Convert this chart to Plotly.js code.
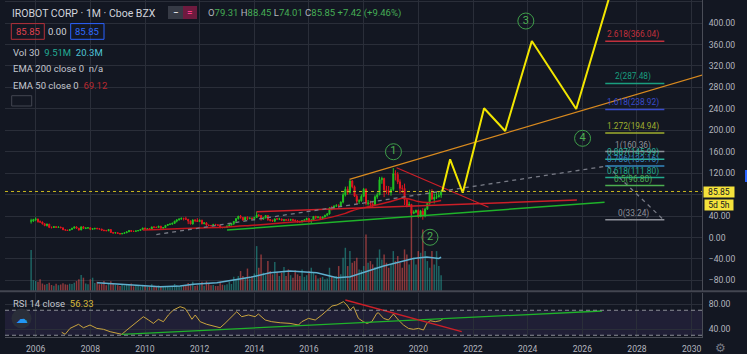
<!DOCTYPE html>
<html><head><meta charset="utf-8">
<script src="https://cdn.plot.ly/plotly-3.0.1.min.js"></script>
<style>html,body{margin:0;padding:0;background:#131722;}#chart{width:747px;height:354px;}</style>
</head><body><div id="chart"></div>
<script>
// ---------------- DATA ----------------
const months = [
'2005-11','2005-12',
'2006-01','2006-02','2006-03','2006-04','2006-05','2006-06','2006-07','2006-08','2006-09','2006-10','2006-11','2006-12',
'2007-01','2007-02','2007-03','2007-04','2007-05','2007-06','2007-07','2007-08','2007-09','2007-10','2007-11','2007-12',
'2008-01','2008-02','2008-03','2008-04','2008-05','2008-06','2008-07','2008-08','2008-09','2008-10','2008-11','2008-12',
'2009-01','2009-02','2009-03','2009-04','2009-05','2009-06','2009-07','2009-08','2009-09','2009-10','2009-11','2009-12',
'2010-01','2010-02','2010-03','2010-04','2010-05','2010-06','2010-07','2010-08','2010-09','2010-10','2010-11','2010-12',
'2011-01','2011-02','2011-03','2011-04','2011-05','2011-06','2011-07','2011-08','2011-09','2011-10','2011-11','2011-12',
'2012-01','2012-02','2012-03','2012-04','2012-05','2012-06','2012-07','2012-08','2012-09','2012-10','2012-11','2012-12',
'2013-01','2013-02','2013-03','2013-04','2013-05','2013-06','2013-07','2013-08','2013-09','2013-10','2013-11','2013-12',
'2014-01','2014-02','2014-03','2014-04','2014-05','2014-06','2014-07','2014-08','2014-09','2014-10','2014-11','2014-12',
'2015-01','2015-02','2015-03','2015-04','2015-05','2015-06','2015-07','2015-08','2015-09','2015-10','2015-11','2015-12',
'2016-01','2016-02','2016-03','2016-04','2016-05','2016-06','2016-07','2016-08','2016-09','2016-10','2016-11','2016-12',
'2017-01','2017-02','2017-03','2017-04','2017-05','2017-06','2017-07','2017-08','2017-09','2017-10','2017-11','2017-12',
'2018-01','2018-02','2018-03','2018-04','2018-05','2018-06','2018-07','2018-08','2018-09','2018-10','2018-11','2018-12',
'2019-01','2019-02','2019-03','2019-04','2019-05','2019-06','2019-07','2019-08','2019-09','2019-10','2019-11','2019-12',
'2020-01','2020-02','2020-03','2020-04','2020-05','2020-06','2020-07','2020-08','2020-09','2020-10','2020-11'];

const opens = [
30.5,31.0,
33.3,34.5,29.5,28.8,25.5,22.3,24.9,19.0,18.6,20.0,18.9,19.5,
18.1,14.4,13.8,13.1,14.9,17.4,19.8,17.3,14.0,19.9,17.0,17.6,
18.1,15.3,16.4,17.1,16.2,15.8,13.7,13.0,12.5,14.8,9.2,8.5,
9.0,7.4,6.6,7.6,8.7,10.5,12.9,11.7,11.4,12.3,13.0,15.0,
17.6,16.0,16.3,15.2,19.7,19.1,18.7,21.1,17.3,18.6,22.6,24.3,
24.9,26.4,30.4,32.9,34.3,35.6,35.3,33.9,30.6,25.2,32.7,31.6,
29.8,32.1,25.6,27.3,23.2,22.3,22.2,24.0,23.5,22.8,18.7,18.4,
18.7,21.6,23.2,25.7,30.1,35.2,39.8,37.4,32.4,37.7,35.6,36.2,
34.8,37.4,41.6,41.0,34.3,36.5,40.9,33.6,31.9,30.5,34.7,34.6,
34.7,32.4,32.8,32.6,32.0,33.5,31.9,31.3,29.7,29.1,31.6,32.9,
35.4,30.4,31.7,39.3,37.9,38.1,35.1,38.2,41.4,44.0,55.3,54.0,
58.5,59.3,58.7,66.1,79.7,89.9,84.1,105.5,94.7,77.1,67.8,68.3,
76.7,89.9,63.7,64.2,62.6,60.1,75.8,79.6,107.9,110.0,88.8,87.3,
83.7,89.6,119.0,117.7,103.8,91.8,91.6,70.5,59.6,61.7,45.0,47.3,
50.6,38.7,49.2,40.9,53.0,63.9,83.9,71.6,74.8,75.9,79.31];

const highs = [
35.0,34.9,
37.5,35.2,31.8,29.9,26.8,26.0,25.5,20.4,21.3,21.5,20.6,20.0,
18.5,15.1,14.2,15.6,17.9,20.5,20.9,17.8,20.4,21.5,18.9,19.2,
18.4,17.0,17.9,18.2,17.0,16.1,14.4,14.2,15.6,15.2,9.9,9.6,
9.4,8.0,7.9,9.1,10.9,13.4,13.5,12.2,12.8,13.9,15.5,18.2,
18.3,17.0,16.9,20.2,20.8,20.3,21.8,21.6,19.4,23.0,25.1,26.5,
27.8,31.2,33.5,35.9,37.4,37.0,38.8,34.6,31.7,33.8,34.2,36.0,
34.0,33.2,27.9,28.6,24.0,23.4,25.5,25.6,24.9,23.5,19.4,19.6,
22.1,24.7,26.4,30.6,36.1,40.2,42.0,38.1,38.2,39.5,37.3,37.5,
38.9,48.5,44.0,42.0,37.9,41.6,41.6,34.2,33.4,35.4,36.5,36.8,
35.0,34.2,34.5,35.2,34.9,35.0,33.8,32.4,31.5,32.3,33.9,37.0,
35.6,34.6,39.8,40.5,39.6,39.5,39.2,42.4,45.6,56.0,58.9,60.2,
62.2,62.0,67.2,83.9,94.8,95.3,107.2,107.0,97.0,80.5,71.3,80.4,
92.5,91.7,70.0,68.5,66.9,78.7,83.7,113.0,113.4,111.6,96.4,96.1,
94.3,129.5,125.5,121.9,108.5,97.6,100.5,72.8,66.8,62.7,50.7,52.0,
52.3,51.6,54.7,55.6,65.1,89.2,90.3,82.0,85.0,86.0,88.45];

const lows = [
26.0,29.0,
30.5,27.6,27.4,24.2,21.0,20.5,17.5,16.8,18.0,18.2,17.9,17.6,
13.9,12.9,12.3,12.8,14.6,16.9,16.5,12.9,13.7,16.2,15.6,16.8,
13.7,14.6,14.9,15.6,14.8,13.2,11.5,11.8,11.9,8.4,6.9,7.6,
7.1,6.3,6.2,7.2,8.4,10.2,10.9,10.7,11.0,11.6,12.6,14.6,
15.4,14.9,14.6,15.0,17.3,17.6,17.9,16.9,16.8,18.1,21.5,23.1,
24.1,25.6,28.2,31.6,33.2,31.8,33.1,24.9,24.6,24.2,28.7,29.1,
29.2,24.5,24.8,21.6,20.8,20.5,21.1,22.2,21.9,17.0,17.4,17.7,
18.5,20.8,22.9,23.4,29.6,33.4,35.1,31.6,31.9,32.6,33.9,33.2,
32.0,36.5,38.2,31.5,33.1,35.8,31.0,29.8,29.5,28.6,33.0,32.5,
30.5,30.1,31.4,30.6,31.2,31.4,29.3,27.7,27.9,28.1,29.9,32.2,
28.0,27.2,31.1,34.5,35.5,33.6,34.6,37.3,40.3,42.5,50.5,53.0,
56.8,55.5,57.3,63.7,76.5,79.8,81.6,91.7,75.5,61.0,62.4,66.8,
76.3,60.1,59.6,55.0,55.4,59.5,72.1,79.0,100.2,75.3,81.3,78.9,
78.0,86.7,106.4,99.5,82.0,82.6,60.6,56.2,57.0,41.8,43.6,45.3,
36.9,38.1,33.24,37.6,51.3,61.1,69.9,63.6,71.8,74.6,74.01];

const closes = [
31.0,33.3,
34.5,29.5,28.8,25.5,22.3,24.9,19.0,18.6,20.0,18.9,19.5,18.1,
14.4,13.8,13.1,14.9,17.4,19.8,17.3,14.0,19.9,17.0,17.6,18.1,
15.3,16.4,17.1,16.2,15.8,13.7,13.0,12.5,14.8,9.2,8.5,9.0,
7.4,6.6,7.6,8.7,10.5,12.9,11.7,11.4,12.3,13.0,15.0,17.6,
16.0,16.3,15.2,19.7,19.1,18.7,21.1,17.3,18.6,22.6,24.3,24.9,
26.4,30.4,32.9,34.3,35.6,35.3,33.9,30.6,25.2,32.7,31.6,29.8,
32.1,25.6,27.3,23.2,22.3,22.2,24.0,23.5,22.8,18.7,18.4,18.7,
21.6,23.2,25.7,30.1,35.2,39.8,37.4,32.4,37.7,35.6,36.2,34.8,
37.4,41.6,41.0,34.3,36.5,40.9,33.6,31.9,30.5,34.7,34.6,34.7,
32.4,32.8,32.6,32.0,33.5,31.9,31.3,29.7,29.1,31.6,32.9,35.4,
30.4,31.7,39.3,37.9,38.1,35.1,38.2,41.4,44.0,55.3,54.0,58.5,
59.3,58.7,66.1,79.7,89.9,84.1,105.5,94.7,77.1,67.8,68.3,76.7,
89.9,63.7,64.2,62.6,60.1,75.8,79.6,107.9,110.0,88.8,87.3,83.7,
89.6,119.0,117.7,103.8,91.8,91.6,70.5,59.6,61.7,45.0,47.3,50.6,
38.7,49.2,40.9,53.0,63.9,83.9,71.6,74.8,75.9,78.4,85.85];

// monthly volume, millions
const volumes = [
24.6,6.5,
6.0,5.5,7.0,4.5,3.8,4.2,5.0,3.6,3.2,4.4,3.5,3.9,
4.6,4.0,3.8,4.4,4.2,5.0,6.0,7.1,9.6,8.0,4.5,4.0,
7.0,8.0,4.8,5.6,4.0,4.2,6.0,3.5,4.5,5.8,4.2,3.6,
3.5,3.0,3.8,3.3,3.6,4.1,4.5,2.8,3.0,3.2,2.6,3.7,
3.1,2.6,2.4,4.0,3.2,2.5,3.3,3.0,2.4,2.9,3.0,2.2,
2.6,4.2,3.5,3.2,2.8,3.0,3.6,4.8,3.5,5.6,3.0,3.4,
3.8,5.5,3.2,5.8,4.2,3.4,3.6,3.0,3.0,5.6,3.8,3.5,
4.0,5.5,4.2,8.5,7.0,9.0,12.0,9.0,8.0,13.5,7.5,9.0,
10.5,27.0,14.0,22.0,11.0,9.5,18.0,12.0,10.0,17.5,11.5,9.0,
11.0,14.5,9.0,13.0,9.5,8.0,12.5,10.0,9.0,13.0,8.5,9.5,
12.0,14.0,11.0,9.5,7.5,8.0,8.5,7.0,7.5,14.0,9.0,8.0,
9.0,15.0,10.0,20.0,26.0,15.0,24.0,17.0,18.0,20.0,13.0,12.5,
15.0,34.0,17.0,18.0,16.0,14.5,20.0,25.0,19.0,22.0,17.0,14.0,
16.0,24.0,18.0,21.0,17.0,14.0,25.0,22.0,16.0,49.0,20.0,16.0,
24.0,23.0,37.0,24.0,18.0,14.0,24.0,16.0,24.0,15.0,9.51];

// Volume MA(30), millions
const volMaDates = ['2008-04-01','2009-05-01','2010-07-20','2011-04-15','2011-10-10','2012-08-18','2013-03-28','2013-11-05','2014-07-30','2015-04-22','2016-04-15','2017-01-08','2017-07-05','2018-01-01','2018-09-24','2019-06-18','2019-10-27','2020-04-23','2020-10-01','2020-11-01'];
const volMaValues = [5.0,4.0,2.6,3.0,4.0,5.0,6.4,8.2,11.0,12.0,11.0,8.0,8.6,11.0,15.0,18.0,19.6,20.4,19.6,20.3];

// EMA 50 (close)
const emaDates = ['2009-12-01','2010-07-01','2011-06-01','2012-01-01','2013-01-01','2013-11-01','2014-09-01','2015-05-01','2016-04-01','2016-11-01','2017-05-01','2017-08-01','2018-02-01','2018-09-01','2019-02-01','2019-06-01','2019-09-01','2020-01-01','2020-06-01','2020-11-01'];
const emaValues = [14.0,14.8,16.8,17.8,19.8,22.5,25.5,28.5,32.0,38.0,45.0,50.0,56.5,63.0,68.5,73.0,72.0,67.0,65.5,69.12];

// RSI 14
const rsiDates = ['2006-12-15','2007-01-30','2007-04-05','2007-07-27','2007-10-01','2007-12-28','2008-03-28','2008-06-24','2008-09-23','2008-12-20','2009-02-25','2009-05-03','2009-07-31','2009-10-27','2009-12-10','2010-02-17','2010-04-23','2010-06-28','2010-09-04','2010-11-09','2011-01-15','2011-04-15','2011-06-20','2011-08-04','2011-09-20','2011-11-03','2012-01-08','2012-04-05','2012-07-05','2012-10-01','2012-12-05','2013-02-13','2013-05-11','2013-07-16','2013-10-15','2014-01-11','2014-02-24','2014-05-26','2014-08-22','2014-12-13','2015-04-23','2015-08-14','2015-09-27','2015-12-25','2016-03-25','2016-06-21','2016-08-28','2016-11-03','2017-01-08','2017-04-05','2017-05-22','2017-07-05','2017-08-18','2017-10-23','2017-12-28','2018-02-13','2018-04-20','2018-06-25','2018-07-17','2018-09-24','2018-11-28','2019-02-03','2019-04-10','2019-06-17','2019-08-22','2019-10-27','2020-01-03','2020-03-10','2020-04-23','2020-06-06','2020-08-14','2020-10-20','2020-11-24'];
const rsiValues = [34.7,31.5,41,47.5,42,46.4,41,39.5,35.7,33,31.5,38.4,46.4,54.4,59.7,54.4,49,55.5,51.7,62.4,70.4,75.7,73,65,55.5,62.4,51.7,47.5,44.8,42,49,57,67.7,59.7,62.4,59.7,64,54.4,51.7,50,49,46.4,51.7,57,54.4,62.4,70.4,76.8,78.4,83.7,78.4,70.4,75.7,57,51.7,49,51.7,65,66,57,54.4,64,54.4,46.4,41,39.5,41,38.4,49,53.3,51.7,53.3,56.33];

// Drawings (trend lines), endpoints
const supportDates = ['2013-01-01','2026-10-25'];   const supportPrices = [13.8, 65.8];
const flatDates    = ['2014-02-01','2025-10-20'];   const flatPrices    = [48.1, 69.9];
const downDates    = ['2019-03-17','2022-07-27'];   const downPrices    = [130.2, 56.3];
const channelDates = ['2017-06-25','2030-06-01'];   const channelPrices = [108.5, 303.5];
const fibPathDates = ['2010-06-01','2026-12-01','2028-12-20']; const fibPathPrices = [5.5, 133.3, 33.24];
const projDates  = ['2020-11-15','2021-03-01','2021-08-17','2022-05-29','2023-03-07','2024-02-26','2025-10-11','2027-01-15'];
const projPrices = [86, 145.8, 83.5, 241, 198.6, 366.5, 239.6, 457];
const waveLabels = ['1','2','3','4'];
const waveDates  = ['2019-02-03','2020-06-05','2023-12-08','2026-01-04'];
const wavePrices = [160, 0.4, 403.8, 185];

const fibRatios = ['2.618','2','1.618','1.272','1','0.887','0.786','0.618','0.5','0'];
const fibLevels = [366.04,287.48,238.92,194.94,160.36,145.99,133.16,111.80,96.80,33.24];
const fibColors = ['#c2303c','#1a9e7f','#3a4ccc','#9fae2e','#8d9099','#2bb29a','#3588c0','#21a98c','#4caf50','#8d9099'];
const fibStart = '2026-11-03', fibEnd = '2029-01-01', fibLabelDate = '2027-11-10';

const rsiGreenDates = ['2009-02-25','2026-09-20']; const rsiGreenValues = [31.5, 68.8];
const rsiRedDates   = ['2017-05-01','2021-08-03']; const rsiRedValues   = [86.4, 35.7];

const priceTicks = [-80,-40,0,40,80,120,160,200,240,280,320,360,400,440];
const lastPrice = 85.85;

// ---------------- CHART ----------------
const BG = '#131722', GRID = '#2a2e39', AXL = '#4a4d57', TXT = '#b2b5be';
const UP = '#22c322', DN = '#e3161f';
const px = x => (x - 5) / 697;
const py = y => (337 - y) / 337;

const volColors = closes.map((c, i) => c >= opens[i] ? 'rgba(38,166,154,0.55)' : 'rgba(239,83,80,0.55)');
// the 80.00 tick label is hidden behind the current-price label, as in TradingView
const priceTickText = priceTicks.map(v => v === 80 ? '' : v.toFixed(2).replace('-', '−'));

const traces = [
  {type:'bar', x:months, y:volumes, xaxis:'x', yaxis:'y', marker:{color:volColors, line:{width:0}}, hoverinfo:'skip'},
  {type:'scatter', mode:'lines', x:volMaDates, y:volMaValues, xaxis:'x', yaxis:'y', line:{color:'#5fb0cf', width:1.5}, hoverinfo:'skip'},
  {type:'candlestick', x:months, open:opens, high:highs, low:lows, close:closes, xaxis:'x', yaxis:'y2',
   increasing:{line:{color:UP, width:1}, fillcolor:UP}, decreasing:{line:{color:DN, width:1}, fillcolor:DN}, whiskerwidth:0, hoverinfo:'skip'},
  {type:'scatter', mode:'lines', x:emaDates, y:emaValues, xaxis:'x', yaxis:'y2', line:{color:'#c2171f', width:1.5, shape:'spline'}, hoverinfo:'skip'},
  {type:'scatter', mode:'lines', x:supportDates, y:supportPrices, xaxis:'x', yaxis:'y2', line:{color:'#1fb32a', width:1.5}, hoverinfo:'skip'},
  {type:'scatter', mode:'lines', x:flatDates, y:flatPrices, xaxis:'x', yaxis:'y2', line:{color:'#cc1f28', width:1.5}, hoverinfo:'skip'},
  {type:'scatter', mode:'lines', x:downDates, y:downPrices, xaxis:'x', yaxis:'y2', line:{color:'#cc1f28', width:1.2}, hoverinfo:'skip'},
  {type:'scatter', mode:'lines', x:channelDates, y:channelPrices, xaxis:'x', yaxis:'y2', line:{color:'#d98a1f', width:1.3}, hoverinfo:'skip'},
  {type:'scatter', mode:'lines', x:fibPathDates, y:fibPathPrices, xaxis:'x', yaxis:'y2', line:{color:'#787b86', width:1.3, dash:'4px,4px'}, hoverinfo:'skip'},
  {type:'scatter', mode:'lines', x:projDates, y:projPrices, xaxis:'x', yaxis:'y2', line:{color:'#f2e600', width:2}, hoverinfo:'skip'},
  {type:'scatter', mode:'markers+text', x:waveDates, y:wavePrices, text:waveLabels, textposition:'middle center', xaxis:'x', yaxis:'y2',
   marker:{symbol:'circle-open', size:16, color:'#3f9e4a', line:{width:1, color:'#3f9e4a'}}, textfont:{color:'#4caf50', size:11}, hoverinfo:'skip', cliponaxis:false},
  {type:'scatter', mode:'lines', x:rsiDates, y:rsiValues, xaxis:'x', yaxis:'y3', line:{color:'#c9a43e', width:1}, hoverinfo:'skip'},
  {type:'scatter', mode:'lines', x:rsiGreenDates, y:rsiGreenValues, xaxis:'x', yaxis:'y3', line:{color:'#1fb32a', width:1.3}, hoverinfo:'skip'},
  {type:'scatter', mode:'lines', x:rsiRedDates, y:rsiRedValues, xaxis:'x', yaxis:'y3', line:{color:'#cc1f28', width:1.3}, hoverinfo:'skip'}
];

const shapes = [
  {type:'rect', xref:'paper', x0:0, x1:1, yref:'y3', y0:30, y1:70, fillcolor:'rgba(126,87,194,0.13)', line:{width:0}, layer:'below'},
  {type:'line', xref:'paper', x0:0, x1:1, yref:'y3', y0:70, y1:70, line:{color:'#8a8d96', width:1, dash:'4px,3px'}},
  {type:'line', xref:'paper', x0:0, x1:1, yref:'y3', y0:30, y1:30, line:{color:'#8a8d96', width:1, dash:'4px,3px'}},
  {type:'line', xref:'paper', x0:-0.01, x1:1.07, yref:'paper', y0:py(291.3), y1:py(291.3), line:{color:'#434651', width:2}},
  {type:'line', xref:'paper', x0:0, x1:1, yref:'y2', y0:lastPrice, y1:lastPrice, line:{color:'#c9b81e', width:1, dash:'dot'}},
  {type:'rect', xref:'paper', yref:'paper', x0:px(11.3), x1:px(44.3), y0:py(39.3), y1:py(23.6), line:{color:'#b3303a', width:1}},
  {type:'rect', xref:'paper', yref:'paper', x0:px(70.7), x1:px(104), y0:py(39.3), y1:py(23.6), line:{color:'#2962ff', width:1}},
  {type:'rect', xref:'paper', yref:'paper', x0:px(11.7), x1:px(31.7), y0:py(106), y1:py(95.7), line:{color:'#434651', width:1}},
  {type:'rect', xref:'paper', yref:'paper', x0:px(168), x1:px(183), y0:py(19), y1:py(6), fillcolor:'#363a45', line:{width:0}},
  {type:'rect', xref:'paper', yref:'paper', x0:px(183), x1:px(197), y0:py(19), y1:py(6), fillcolor:'#6e1b3f', line:{width:0}},
  {type:'circle', xref:'paper', yref:'paper', x0:px(11.5), x1:px(31.5), y0:py(328.5), y1:py(308.5), fillcolor:'#2a2e39', line:{width:0}},
  {type:'rect', xref:'paper', yref:'paper', x0:px(745), x1:px(748), y0:py(182), y1:py(170), fillcolor:'#2962ff', line:{width:0}}
];
fibLevels.forEach((lv, i) => {
  shapes.push({type:'line', xref:'x', yref:'y2', x0:fibStart, x1:fibEnd, y0:lv, y1:lv, line:{color:fibColors[i], width:1.5}});
});

const F = 'Roboto, "Noto Sans", "DejaVu Sans", sans-serif';
const ann = (x, y, text, size, color, extra) => Object.assign({xref:'paper', yref:'paper', x:x, y:y, text:text, showarrow:false,
  xanchor:'left', yanchor:'middle', font:{family:F, size:size, color:color}}, extra || {});
const G = '#45ad55', L = '#b2b5be';
const annotations = [
  ann(px(10), py(13), 'IROBOT CORP · 1M · Cboe BZX', 10.5, '#d1d4dc'),
  ann(px(176), py(12.5), '−', 10, '#ffffff', {xanchor:'center'}),
  ann(px(190), py(12.5), '=', 10, '#ff3d8b', {xanchor:'center'}),
  ann(px(206), py(13), `<span style="color:${L}">O</span>79.31 <span style="color:${L}">H</span>88.45 <span style="color:${L}">L</span>74.01 <span style="color:${L}">C</span>85.85 +7.42 (+9.46%)`, 9.5, G),
  ann(px(27.8), py(31.4), '85.85', 9.5, '#e0434f', {xanchor:'center'}),
  ann(px(57.5), py(31.4), '0.00', 9.5, '#d1d4dc', {xanchor:'center'}),
  ann(px(87.3), py(31.4), '85.85', 9.5, '#2f6bff', {xanchor:'center'}),
  ann(px(10.5), py(52.3), `Vol 30\u00a0 <span style="color:#22ab94">9.51M</span>\u00a0 <span style="color:#4fc3d7">20.3M</span>`, 9.5, '#c3c6ce'),
  ann(px(10.5), py(69), 'EMA 200 close 0\u00a0 n/a', 9.5, '#c3c6ce'),
  ann(px(10.5), py(85.7), `EMA 50 close 0\u00a0 <span style="color:#b8282e">69.12</span>`, 9.5, '#c3c6ce'),
  ann(px(10.5), py(303.3), `RSI 14 close\u00a0 <span style="color:#d6b93a">56.33</span>`, 9.5, '#c3c6ce'),
  ann(px(21.5), py(318.5), '☁', 12, '#2196f3', {xanchor:'center'}),
  ann(px(720), py(347.5), '⚙', 12, '#787b86', {xanchor:'center'}),
  {xref:'paper', yref:'paper', x:px(702.5), y:py(192), text:'85.85', showarrow:false, xanchor:'left', yanchor:'middle',
   width:30, height:10, borderpad:0, bgcolor:'#f5e23b', font:{family:F, size:8.6, color:'#131722'}},
  {xref:'paper', yref:'paper', x:px(704), y:py(204.8), text:'5d 5h', showarrow:false, xanchor:'left', yanchor:'middle',
   width:28, height:10, borderpad:0, bgcolor:'#f5e23b', font:{family:F, size:8.6, color:'#131722'}}
];
fibLevels.forEach((lv, i) => {
  annotations.push({xref:'x', yref:'y2', x:fibLabelDate, y:lv, yanchor:'bottom', xanchor:'center', showarrow:false,
    text: fibRatios[i] + '(' + lv.toFixed(2) + ')', font:{family:F, size:8.3, color:fibColors[i]}, borderpad:0});
});

const layout = {
  width:747, height:354, margin:{l:5, r:45, t:0, b:17},
  paper_bgcolor:BG, plot_bgcolor:'rgba(0,0,0,0)', showlegend:false, hovermode:false, bargap:0.3,
  font:{family:F, color:TXT, size:8.6},
  xaxis:{type:'date', range:['2004-11-17','2030-05-19'], anchor:'y3', tick0:'2006-01-01', dtick:'M24', tickformat:'%Y',
    showgrid:true, gridcolor:GRID, gridwidth:1, zeroline:false, showline:true, linecolor:AXL, ticks:'',
    tickfont:{size:8.6, color:TXT}, ticklabelstandoff:4, rangeslider:{visible:false}, fixedrange:true},
  yaxis:{domain:[py(291), 1], range:[0, 175], visible:false, showgrid:false, zeroline:false, fixedrange:true},
  yaxis2:{overlaying:'y', side:'right', anchor:'x', range:[-99.8, 443], tickmode:'array', tickvals:priceTicks, ticktext:priceTickText,
    showgrid:true, gridcolor:GRID, zeroline:false, showline:true, linecolor:AXL, ticks:'',
    tickfont:{size:8.6, color:TXT}, ticklabelstandoff:4, fixedrange:true},
  yaxis3:{domain:[0, py(292.5)], side:'right', anchor:'x', range:[27.2, 98.4], tickvals:[40, 80], tickformat:'.2f',
    showgrid:true, gridcolor:GRID, zeroline:false, showline:true, linecolor:AXL, ticks:'',
    tickfont:{size:8.6, color:TXT}, ticklabelstandoff:4, fixedrange:true},
  shapes:shapes, annotations:annotations
};

Plotly.newPlot('chart', traces, layout, {staticPlot:true, displayModeBar:false});
</script>
</body></html>
